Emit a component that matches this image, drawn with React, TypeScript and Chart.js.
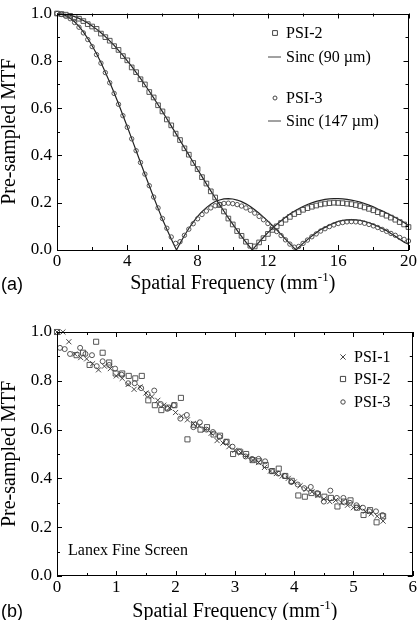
import React, { useEffect, useRef } from 'react';
import { Chart, registerables } from 'chart.js';

Chart.register(...registerables);

const SERIF = '"Liberation Serif", "Times New Roman", serif';
const SANS = '"Liberation Sans", Arial, sans-serif';

// ---------- Panel (a) ----------
const markerFreqA = [0, 0.25, 0.5, 0.75, 1, 1.25, 1.5, 1.75, 2, 2.25, 2.5, 2.75, 3, 3.25, 3.5, 3.75, 4, 4.25, 4.5, 4.75, 5, 5.25, 5.5, 5.75, 6, 6.25, 6.5, 6.75, 7, 7.25, 7.5, 7.75, 8, 8.25, 8.5, 8.75, 9, 9.25, 9.5, 9.75, 10, 10.25, 10.5, 10.75, 11, 11.25, 11.5, 11.75, 12, 12.25, 12.5, 12.75, 13, 13.25, 13.5, 13.75, 14, 14.25, 14.5, 14.75, 15, 15.25, 15.5, 15.75, 16, 16.25, 16.5, 16.75, 17, 17.25, 17.5, 17.75, 18, 18.25, 18.5, 18.75, 19, 19.25, 19.5, 19.75, 20];
const psi2MeasA = [1.000, 0.998, 0.995, 0.990, 0.985, 0.978, 0.968, 0.955, 0.945, 0.935, 0.915, 0.900, 0.885, 0.862, 0.846, 0.820, 0.802, 0.772, 0.752, 0.722, 0.700, 0.668, 0.645, 0.612, 0.586, 0.552, 0.527, 0.492, 0.465, 0.430, 0.403, 0.368, 0.342, 0.308, 0.281, 0.248, 0.222, 0.190, 0.163, 0.133, 0.108, 0.080, 0.060, 0.035, 0.018, 0.015, 0.032, 0.050, 0.068, 0.085, 0.100, 0.114, 0.128, 0.140, 0.152, 0.160, 0.170, 0.177, 0.183, 0.188, 0.193, 0.196, 0.198, 0.200, 0.199, 0.198, 0.196, 0.194, 0.190, 0.186, 0.180, 0.174, 0.168, 0.160, 0.153, 0.145, 0.137, 0.128, 0.118, 0.108, 0.097];
const psi3MeasA = [1.000, 0.996, 0.988, 0.978, 0.962, 0.942, 0.918, 0.890, 0.860, 0.826, 0.790, 0.750, 0.707, 0.662, 0.616, 0.568, 0.519, 0.470, 0.420, 0.370, 0.321, 0.272, 0.224, 0.178, 0.133, 0.092, 0.055, 0.028, 0.035, 0.062, 0.088, 0.111, 0.132, 0.150, 0.165, 0.178, 0.187, 0.193, 0.197, 0.198, 0.196, 0.192, 0.186, 0.178, 0.168, 0.156, 0.142, 0.128, 0.112, 0.095, 0.078, 0.061, 0.043, 0.025, 0.012, 0.015, 0.028, 0.042, 0.056, 0.068, 0.080, 0.090, 0.099, 0.106, 0.112, 0.116, 0.119, 0.120, 0.119, 0.117, 0.113, 0.108, 0.102, 0.095, 0.087, 0.079, 0.070, 0.062, 0.053, 0.045, 0.038];

const sinc90Freq = [0, 0.25, 0.5, 0.75, 1, 1.25, 1.5, 1.75, 2, 2.25, 2.5, 2.75, 3, 3.25, 3.5, 3.75, 4, 4.25, 4.5, 4.75, 5, 5.25, 5.5, 5.75, 6, 6.25, 6.5, 6.75, 7, 7.25, 7.5, 7.75, 8, 8.25, 8.5, 8.75, 9, 9.25, 9.5, 9.75, 10, 10.25, 10.5, 10.75, 11, 11.11, 11.25, 11.5, 11.75, 12, 12.25, 12.5, 12.75, 13, 13.25, 13.5, 13.75, 14, 14.25, 14.5, 14.75, 15, 15.25, 15.5, 15.75, 16, 16.25, 16.5, 16.75, 17, 17.25, 17.5, 17.75, 18, 18.25, 18.5, 18.75, 19, 19.25, 19.5, 19.75, 20];
const sinc90Mtf = [1, 0.9992, 0.9967, 0.9925, 0.9868, 0.9793, 0.9703, 0.9597, 0.9474, 0.9339, 0.9188, 0.9022, 0.8843, 0.8652, 0.8444, 0.8227, 0.8000, 0.7762, 0.7512, 0.7255, 0.6987, 0.6712, 0.6430, 0.6142, 0.5848, 0.5551, 0.5249, 0.4944, 0.4637, 0.4328, 0.4021, 0.3713, 0.3406, 0.3103, 0.2798, 0.2502, 0.2209, 0.1921, 0.1640, 0.1356, 0.1093, 0.0831, 0.0579, 0.0335, 0.0101, 0, 0.0123, 0.0337, 0.0540, 0.0733, 0.0909, 0.1083, 0.1237, 0.1385, 0.1523, 0.1642, 0.1747, 0.1842, 0.1926, 0.1995, 0.2057, 0.2101, 0.2137, 0.2159, 0.2171, 0.2171, 0.2161, 0.2141, 0.2111, 0.2071, 0.2023, 0.1964, 0.1897, 0.1827, 0.1735, 0.1653, 0.1565, 0.1471, 0.1372, 0.1269, 0.1162, 0.1039];

const sinc147Freq = [0, 0.25, 0.5, 0.75, 1, 1.25, 1.5, 1.75, 2, 2.25, 2.5, 2.75, 3, 3.25, 3.5, 3.75, 4, 4.25, 4.5, 4.75, 5, 5.25, 5.5, 5.75, 6, 6.25, 6.5, 6.75, 6.8, 7, 7.25, 7.5, 7.75, 8, 8.25, 8.5, 8.75, 9, 9.25, 9.5, 9.75, 10, 10.25, 10.5, 10.75, 11, 11.25, 11.5, 11.75, 12, 12.25, 12.5, 12.75, 13, 13.25, 13.5, 13.6, 13.75, 14, 14.25, 14.5, 14.75, 15, 15.25, 15.5, 15.75, 16, 16.25, 16.5, 16.75, 17, 17.25, 17.5, 17.75, 18, 18.25, 18.5, 18.75, 19, 19.25, 19.5, 19.75, 20];
const sinc147Mtf = [1, 0.9978, 0.9911, 0.9801, 0.9649, 0.9454, 0.9219, 0.8945, 0.8636, 0.8296, 0.7924, 0.7520, 0.7095, 0.6647, 0.6180, 0.5700, 0.5209, 0.4710, 0.4206, 0.3701, 0.3203, 0.2713, 0.2228, 0.1760, 0.1301, 0.0876, 0.0464, 0.0078, 0, 0.0282, 0.0612, 0.0910, 0.1175, 0.1422, 0.1625, 0.1793, 0.1937, 0.2049, 0.2116, 0.2159, 0.2171, 0.2156, 0.2112, 0.2044, 0.1951, 0.1838, 0.1702, 0.1553, 0.1392, 0.1220, 0.1036, 0.0849, 0.0661, 0.0458, 0.0267, 0.0078, 0, 0.0105, 0.0279, 0.0439, 0.0591, 0.0730, 0.0871, 0.0958, 0.1055, 0.1135, 0.1212, 0.1250, 0.1277, 0.1285, 0.1274, 0.1249, 0.1208, 0.1152, 0.1083, 0.1006, 0.0908, 0.0820, 0.0695, 0.0582, 0.0453, 0.0328, 0.0250];

// ---------- Panel (b) ----------
const psi1Freq = [0, 0.1, 0.2, 0.3, 0.4, 0.5, 0.6, 0.7, 0.8, 0.9, 1.0, 1.1, 1.2, 1.3, 1.4, 1.5, 1.6, 1.7, 1.8, 1.9, 2.0, 2.1, 2.2, 2.3, 2.4, 2.5, 2.6, 2.7, 2.8, 2.9, 3.0, 3.1, 3.2, 3.3, 3.4, 3.5, 3.6, 3.7, 3.8, 3.9, 4.0, 4.1, 4.2, 4.3, 4.4, 4.5, 4.6, 4.7, 4.8, 4.9, 5.0, 5.1, 5.2, 5.3, 5.4, 5.5];
const psi1Mtf = [1.00, 1.00, 0.96, 0.91, 0.895, 0.89, 0.87, 0.845, 0.86, 0.85, 0.82, 0.81, 0.785, 0.765, 0.775, 0.75, 0.735, 0.72, 0.70, 0.69, 0.67, 0.655, 0.64, 0.625, 0.615, 0.60, 0.585, 0.555, 0.545, 0.53, 0.515, 0.505, 0.49, 0.475, 0.465, 0.445, 0.43, 0.42, 0.41, 0.40, 0.385, 0.37, 0.355, 0.345, 0.33, 0.315, 0.305, 0.31, 0.30, 0.29, 0.28, 0.28, 0.265, 0.255, 0.245, 0.225];
const psi2Freq = [0, 0.33, 0.44, 0.55, 0.66, 0.77, 0.88, 0.99, 1.10, 1.21, 1.32, 1.43, 1.54, 1.65, 1.76, 1.87, 1.98, 2.09, 2.20, 2.31, 2.42, 2.53, 2.64, 2.75, 2.86, 2.97, 3.08, 3.19, 3.30, 3.41, 3.52, 3.63, 3.74, 3.85, 3.96, 4.07, 4.18, 4.29, 4.40, 4.51, 4.62, 4.73, 4.84, 4.95, 5.06, 5.17, 5.28, 5.39, 5.50];
const psi2Mtf = [1.0, 0.905, 0.915, 0.865, 0.96, 0.915, 0.875, 0.83, 0.83, 0.82, 0.81, 0.82, 0.72, 0.70, 0.68, 0.69, 0.70, 0.73, 0.56, 0.62, 0.60, 0.61, 0.58, 0.575, 0.55, 0.50, 0.51, 0.50, 0.475, 0.47, 0.455, 0.43, 0.44, 0.41, 0.39, 0.33, 0.325, 0.34, 0.335, 0.325, 0.32, 0.285, 0.305, 0.31, 0.28, 0.25, 0.27, 0.22, 0.245];
const psi3Freq = [0.05, 0.13, 0.22, 0.39, 0.48, 0.59, 0.67, 0.77, 0.88, 0.98, 1.09, 1.20, 1.31, 1.42, 1.53, 1.64, 1.75, 1.86, 1.97, 2.08, 2.19, 2.30, 2.41, 2.52, 2.63, 2.74, 2.85, 2.96, 3.07, 3.18, 3.29, 3.40, 3.51, 3.62, 3.73, 3.84, 3.95, 4.06, 4.17, 4.28, 4.39, 4.50, 4.61, 4.72, 4.83, 4.94, 5.05, 5.16, 5.27, 5.38, 5.49];
const psi3Mtf = [0.935, 0.93, 0.91, 0.935, 0.91, 0.905, 0.86, 0.88, 0.865, 0.85, 0.825, 0.79, 0.79, 0.77, 0.745, 0.76, 0.705, 0.685, 0.70, 0.645, 0.66, 0.61, 0.63, 0.60, 0.59, 0.57, 0.55, 0.53, 0.51, 0.49, 0.48, 0.48, 0.47, 0.43, 0.42, 0.41, 0.385, 0.375, 0.36, 0.365, 0.34, 0.305, 0.35, 0.32, 0.32, 0.30, 0.29, 0.28, 0.265, 0.265, 0.25];

const pairs = (xs: number[], ys: number[]) => xs.map((x, i) => ({ x, y: ys[i] }));

type LegendItem = { kind: 'rect' | 'circle' | 'cross' | 'dash'; label: string; y: number };

function drawMarker(ctx: CanvasRenderingContext2D, kind: string, x: number, y: number, s: number) {
  ctx.beginPath();
  if (kind === 'rect') {
    ctx.rect(x - s, y - s, 2 * s, 2 * s);
  } else if (kind === 'circle') {
    ctx.arc(x, y, s, 0, Math.PI * 2);
  } else if (kind === 'cross') {
    ctx.moveTo(x - s, y - s); ctx.lineTo(x + s, y + s);
    ctx.moveTo(x + s, y - s); ctx.lineTo(x - s, y + s);
  } else {
    ctx.moveTo(x - 7, y); ctx.lineTo(x + 6, y);
  }
  ctx.stroke();
}

function panelPlugin(opts: {
  xMinor: number; xMajor: number; yMinor: number; yMajor: number;
  panel: string; panelY: number; xTitleY: number;
  legend: LegendItem[]; legendMarkX: number; legendTextX: number; markSize: number;
  note?: { text: string; x: number; y: number };
}) {
  return {
    id: 'panelDecor',
    afterDraw(chart: any) {
      const { ctx, chartArea: a, scales } = chart;
      const xs = scales.x, ys = scales.y;
      ctx.save();
      ctx.strokeStyle = '#000';
      ctx.lineWidth = 1;
      ctx.strokeRect(Math.round(a.left) + 0.5, Math.round(a.top) + 0.5, Math.round(a.right - a.left) - 1, Math.round(a.bottom - a.top) - 1);
      // inward ticks
      ctx.beginPath();
      for (let v = xs.min; v <= xs.max + 1e-9; v += opts.xMinor) {
        const px = Math.round(xs.getPixelForValue(v)) + 0.5;
        const major = Math.abs(v / opts.xMajor - Math.round(v / opts.xMajor)) < 1e-6;
        const len = major ? 5 : 3;
        ctx.moveTo(px, a.bottom); ctx.lineTo(px, a.bottom - len);
        ctx.moveTo(px, a.top); ctx.lineTo(px, a.top + len);
      }
      for (let v = ys.min; v <= ys.max + 1e-9; v += opts.yMinor) {
        const py = Math.round(ys.getPixelForValue(v)) + 0.5;
        const major = Math.abs(v / opts.yMajor - Math.round(v / opts.yMajor)) < 1e-6;
        const len = major ? 5 : 3;
        ctx.moveTo(a.left, py); ctx.lineTo(a.left + len, py);
        ctx.moveTo(a.right, py); ctx.lineTo(a.right - len, py);
      }
      ctx.stroke();

      // y title
      ctx.fillStyle = '#000';
      ctx.save();
      ctx.translate(10, (a.top + a.bottom) / 2);
      ctx.rotate(-Math.PI / 2);
      ctx.font = `20px ${SERIF}`;
      ctx.textAlign = 'center';
      ctx.textBaseline = 'middle';
      ctx.fillText('Pre-sampled MTF', 0, 0);
      ctx.restore();

      // x title with superscript
      const main = 'Spatial Frequency (mm';
      const sup = '-1';
      const end = ')';
      ctx.font = `20px ${SERIF}`;
      const w1 = ctx.measureText(main).width;
      const w3 = ctx.measureText(end).width;
      ctx.font = `13px ${SERIF}`;
      const w2 = ctx.measureText(sup).width;
      let x = (a.left + a.right) / 2 - (w1 + w2 + w3) / 2;
      ctx.textAlign = 'left';
      ctx.textBaseline = 'alphabetic';
      ctx.font = `20px ${SERIF}`;
      ctx.fillText(main, x, opts.xTitleY);
      x += w1;
      ctx.font = `13px ${SERIF}`;
      ctx.fillText(sup, x, opts.xTitleY - 8);
      x += w2;
      ctx.font = `20px ${SERIF}`;
      ctx.fillText(end, x, opts.xTitleY);

      // panel letter
      ctx.font = `18px ${SANS}`;
      ctx.fillText(opts.panel, 1, opts.panelY);

      // legend
      ctx.font = `16px ${SERIF}`;
      ctx.textBaseline = 'middle';
      ctx.strokeStyle = '#444';
      ctx.lineWidth = 1;
      for (const it of opts.legend) {
        drawMarker(ctx, it.kind, opts.legendMarkX, it.y, it.kind === 'circle' ? opts.markSize - 0.4 : opts.markSize);
        ctx.fillText(it.label, opts.legendTextX, it.y + 1);
      }
      if (opts.note) {
        ctx.fillText(opts.note.text, opts.note.x, opts.note.y);
      }
      ctx.restore();
    },
  };
}

function baseScales(xMax: number, xStep: number, xHeight: number) {
  const tickFont = { family: SERIF, size: 17, lineHeight: 1 };
  return {
    x: {
      type: 'linear',
      min: 0,
      max: xMax,
      grid: { display: false, drawTicks: false },
      border: { display: false },
      ticks: { stepSize: xStep, color: '#000', font: tickFont, padding: 3, maxRotation: 0, autoSkip: false },
      afterFit: (s: any) => { s.height = xHeight; },
    },
    y: {
      type: 'linear',
      min: 0,
      max: 1,
      grid: { display: false, drawTicks: false },
      border: { display: false },
      ticks: {
        stepSize: 0.2, color: '#000', font: tickFont, padding: 5,
        callback: (v: any) => Number(v).toFixed(1),
      },
      afterFit: (s: any) => { s.width = 57; },
    },
  };
}

export default function App() {
  const refA = useRef<HTMLCanvasElement>(null);
  const refB = useRef<HTMLCanvasElement>(null);

  useEffect(() => {
    const chartA = new Chart(refA.current!, {
      type: 'scatter',
      data: {
        datasets: [
          {
            label: 'PSI-2', data: pairs(markerFreqA, psi2MeasA), showLine: false,
            pointStyle: 'rect', pointRadius: 3.3, borderColor: '#444', backgroundColor: 'rgba(0,0,0,0)', borderWidth: 0.9, clip: false,
          },
          {
            label: 'Sinc (90 µm)', data: pairs(sinc90Freq, sinc90Mtf), showLine: true,
            pointRadius: 0, borderColor: '#222', borderWidth: 1.2, backgroundColor: 'rgba(0,0,0,0)',
          },
          {
            label: 'PSI-3', data: pairs(markerFreqA, psi3MeasA), showLine: false,
            pointStyle: 'circle', pointRadius: 2.2, borderColor: '#444', backgroundColor: 'rgba(0,0,0,0)', borderWidth: 0.9, clip: false,
          },
          {
            label: 'Sinc (147 µm)', data: pairs(sinc147Freq, sinc147Mtf), showLine: true,
            pointRadius: 0, borderColor: '#222', borderWidth: 1.2, backgroundColor: 'rgba(0,0,0,0)',
          },
        ],
      },
      options: {
        responsive: false,
        animation: false,
        events: [],
        layout: { padding: { left: 0, top: 9, right: 11, bottom: 0 } },
        plugins: { legend: { display: false }, tooltip: { enabled: false } },
        scales: baseScales(20, 4, 50) as any,
      },
      plugins: [panelPlugin({
        xMinor: 2, xMajor: 4, yMinor: 0.1, yMajor: 0.2,
        panel: '(a)', panelY: 290, xTitleY: 289,
        legend: [
          { kind: 'rect', label: 'PSI-2', y: 33 },
          { kind: 'dash', label: 'Sinc (90 µm)', y: 57 },
          { kind: 'circle', label: 'PSI-3', y: 98 },
          { kind: 'dash', label: 'Sinc (147 µm)', y: 121 },
        ],
        legendMarkX: 275, legendTextX: 286, markSize: 2.4,
      })],
    } as any);

    const chartB = new Chart(refB.current!, {
      type: 'scatter',
      data: {
        datasets: [
          {
            label: 'PSI-1', data: pairs(psi1Freq, psi1Mtf), showLine: false,
            pointStyle: 'crossRot', pointRadius: 3.6, borderColor: '#333', borderWidth: 0.9, clip: false,
          },
          {
            label: 'PSI-2', data: pairs(psi2Freq, psi2Mtf), showLine: false,
            pointStyle: 'rect', pointRadius: 3.6, borderColor: '#444', backgroundColor: 'rgba(0,0,0,0)', borderWidth: 0.9, clip: false,
          },
          {
            label: 'PSI-3', data: pairs(psi3Freq, psi3Mtf), showLine: false,
            pointStyle: 'circle', pointRadius: 2.5, borderColor: '#444', backgroundColor: 'rgba(0,0,0,0)', borderWidth: 0.9, clip: false,
          },
        ],
      },
      options: {
        responsive: false,
        animation: false,
        events: [],
        layout: { padding: { left: 0, top: 32, right: 7, bottom: 0 } },
        plugins: { legend: { display: false }, tooltip: { enabled: false } },
        scales: baseScales(6, 1, 44) as any,
      },
      plugins: [panelPlugin({
        xMinor: 0.5, xMajor: 1, yMinor: 0.1, yMajor: 0.2,
        panel: '(b)', panelY: 317, xTitleY: 317,
        legend: [
          { kind: 'cross', label: 'PSI-1', y: 57 },
          { kind: 'rect', label: 'PSI-2', y: 79 },
          { kind: 'circle', label: 'PSI-3', y: 102 },
        ],
        legendMarkX: 343, legendTextX: 354, markSize: 2.6,
        note: { text: 'Lanex Fine Screen', x: 68, y: 251 },
      })],
    } as any);

    return () => {
      chartA.destroy();
      chartB.destroy();
    };
  }, []);

  return (
    <div style={{ position: 'absolute', left: 0, top: 0, width: 420, height: 620, background: '#fff' }}>
      <canvas ref={refA} width={420} height={300} style={{ position: 'absolute', left: 0, top: 0, width: 420, height: 300 }} />
      <canvas ref={refB} width={420} height={320} style={{ position: 'absolute', left: 0, top: 300, width: 420, height: 320 }} />
    </div>
  );
}
